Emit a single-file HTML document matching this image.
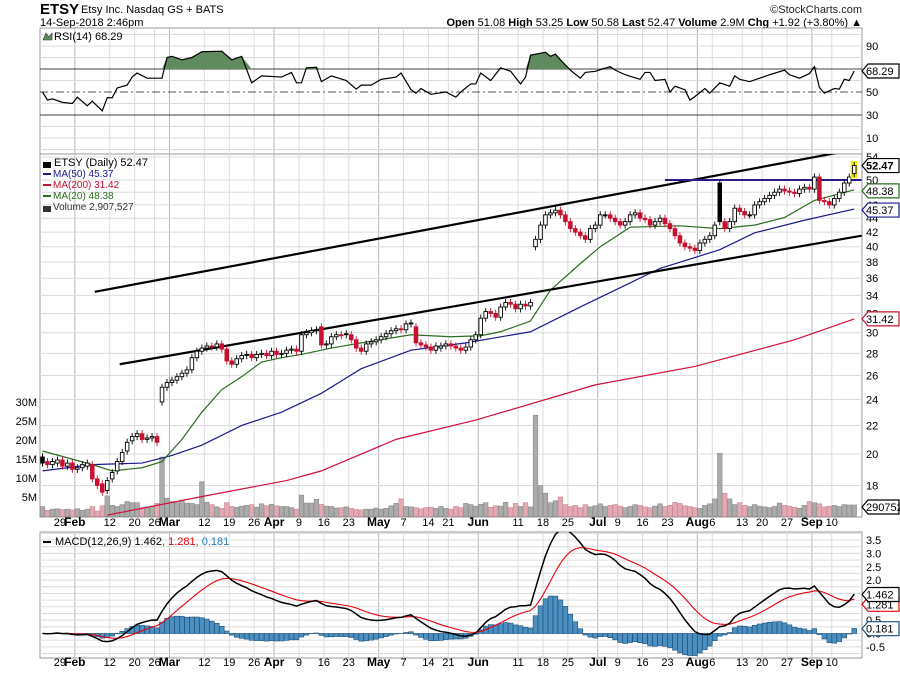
<!DOCTYPE html>
<html><head><meta charset="utf-8">
<style>
html,body{margin:0;padding:0;background:#fff;}
svg{display:block;font-family:"Liberation Sans",sans-serif;}
</style></head>
<body>
<svg id="c" width="900" height="673" viewBox="0 0 900 673" xmlns="http://www.w3.org/2000/svg">
<defs>
<clipPath id="pc"><rect x="40" y="154" width="822" height="363"/></clipPath>
<clipPath id="rc"><rect x="40" y="28" width="822" height="126"/></clipPath>
<clipPath id="mc"><rect x="40" y="532" width="822" height="126"/></clipPath>
</defs>
<text x="40" y="14" font-size="15" font-weight="bold" fill="#000">ETSY</text>
<text x="81" y="13" font-size="11" fill="#000">Etsy Inc. Nasdaq GS + BATS</text>
<text x="40" y="26" font-size="11" fill="#000">14-Sep-2018 2:46pm</text>
<text x="862" y="13" font-size="11" fill="#222" text-anchor="end">©StockCharts.com</text>
<text x="862" y="26" font-size="11" fill="#000" text-anchor="end"><tspan font-weight="bold">Open</tspan> 51.08  <tspan font-weight="bold">High</tspan> 53.25  <tspan font-weight="bold">Low</tspan> 50.58  <tspan font-weight="bold">Last</tspan> 52.47  <tspan font-weight="bold">Volume</tspan> 2.9M  <tspan font-weight="bold">Chg</tspan> +1.92 (+3.80%) ▲</text>
<g id="g"></g>
</svg>
<script>
const closes=[19.4,19.3,19.5,19.6,19.2,19.4,19.0,19.1,19.3,19.4,
18.4,18.0,17.6,18.3,18.8,19.5,20.1,20.8,21.2,21.4,
21.0,21.1,21.2,20.8,25.0,25.4,25.6,25.9,26.2,26.5,
27.6,28.2,28.5,28.7,28.6,28.9,28.4,27.3,27.0,27.5,
27.8,27.9,27.6,27.9,28.0,27.8,28.2,27.9,28.0,28.3,
28.4,28.2,29.8,30.0,30.2,30.3,28.8,28.9,29.6,29.8,
29.7,29.8,29.3,28.5,28.2,28.9,29.1,29.3,29.6,29.9,
30.2,30.4,30.3,30.9,31.0,29.0,28.8,28.6,28.3,28.7,
28.7,28.9,28.7,28.5,28.3,28.6,29.3,29.8,31.5,32.2,
32.0,31.6,32.7,33.2,33.0,32.5,33.0,32.8,33.2,41.0,
43.0,44.5,44.8,45.2,44.5,43.5,42.5,42.0,41.5,41.0,
42.5,43.0,44.5,44.5,44.0,43.5,43.0,43.5,44.5,44.8,
44.0,43.8,43.0,43.5,44.0,43.2,42.5,41.5,40.5,40.0,
39.8,39.5,40.5,41.0,41.5,43.0,43.5,42.5,43.5,45.5,
45.0,44.5,44.5,46.0,46.5,47.0,47.5,48.0,48.5,48.2,
48.0,47.8,48.5,48.8,48.5,50.5,46.7,46.5,46.0,47.0,
48.0,49.5,50.5,52.47];
const opens=[19.8,19.5,19.3,19.4,19.6,19.2,19.4,19.0,19.1,19.2,
19.3,18.4,18.1,17.7,18.4,18.9,19.5,20.2,20.9,21.2,
21.4,21.0,21.1,21.2,23.8,25.0,25.4,25.6,25.9,26.2,
26.5,27.6,28.2,28.5,28.7,28.6,28.9,28.4,27.3,27.0,
27.5,27.8,27.9,27.6,27.9,28.0,27.8,28.2,27.9,28.0,
28.3,28.4,28.2,29.8,30.0,30.2,30.6,28.8,28.9,29.6,
29.8,29.9,29.8,29.3,28.5,28.2,28.9,29.1,29.3,29.6,
29.9,30.2,30.4,30.3,30.9,30.6,29.0,28.8,28.6,28.3,
28.5,28.7,28.9,28.7,28.5,28.3,28.6,29.3,29.8,31.5,
32.2,32.0,31.6,32.7,33.2,33.0,32.5,33.0,32.8,40.0,
41.0,43.0,44.5,44.8,45.2,44.5,43.5,42.5,42.0,41.5,
41.0,42.5,43.0,44.5,44.5,44.0,43.5,43.0,43.5,44.5,
44.8,44.0,43.8,43.0,43.5,44.0,43.2,42.5,41.5,40.5,
40.0,39.8,39.5,40.5,41.0,41.5,49.5,43.5,42.5,43.5,
45.5,45.0,44.5,44.5,46.0,46.5,47.0,47.5,48.0,48.5,
48.2,48.0,47.8,48.5,48.8,48.5,50.5,46.7,46.5,46.0,
47.0,48.0,49.5,51.08];
const volumes=[2.5,1.5,1.8,1.9,1.7,1.8,1.6,1.9,1.5,1.8,
2.5,1.3,2.7,5.3,2.8,2.5,3.0,3.8,3.5,3.5,
2.2,2.4,2.6,3.3,15.5,4.7,3.8,3.5,4.2,3.4,
3.3,3.0,9.0,3.6,3.0,2.4,2.0,3.5,2.5,2.3,
2.6,2.8,3.0,2.3,3.2,2.7,3.1,2.7,2.5,2.5,
2.2,1.8,5.5,3.4,3.4,4.4,3.1,2.6,2.5,2.1,
2.2,2.4,2.0,1.7,1.6,1.8,1.8,2.1,1.8,2.0,
2.7,3.3,4.5,2.5,2.4,2.2,1.9,2.2,2.3,2.0,
2.5,2.0,1.8,2.5,2.2,3.3,3.0,2.6,3.1,3.5,
2.3,2.7,2.6,3.6,2.2,3.3,2.5,3.5,2.4,26.5,
8.0,6.0,3.5,4.0,5.0,3.0,2.5,2.8,2.2,3.0,
2.4,2.7,3.2,2.5,2.8,3.0,2.6,2.2,2.5,3.0,
2.8,2.4,2.2,2.6,3.2,2.5,2.8,3.6,3.3,2.7,
2.5,2.2,2.0,2.8,3.2,4.5,16.5,6.0,4.5,3.0,
3.5,2.8,2.5,3.0,2.6,2.4,2.2,2.5,3.4,2.8,
2.6,2.3,2.0,2.8,3.8,3.5,3.2,2.4,2.6,2.8,
2.5,3.0,2.9,2.9];
const ma20Days=[0,10,14,20,24,28,32,36,40,44,48,52,58,64,74,82,88,92,98,102,108,112,118,128,136,143,149,155,163];
const ma20Vals=[20.2,19.3,18.9,19.1,19.5,21,23,24.8,25.9,27.2,27.6,27.9,28.5,29,29.8,29.6,29.7,30.1,31.2,34.6,37.8,40,42.7,42.9,42.5,43,44.1,46.7,48.38];
const ma50Days=[0,10,20,26,32,40,48,56,64,74,85,98,108,124,136,143,153,163];
const ma50Vals=[18.9,19.3,19.4,19.9,20.6,22,23,24.5,26.6,28.3,29,30.1,32.7,37.2,39.6,41.9,43.7,45.37];
const ma200Days=[13,33,49,56,71,87,111,131,151,163];
const ma200Vals=[16.3,17.4,18.3,18.9,21,22.4,25.2,26.8,29.3,31.42];
const rsiDays=[0,1,2,4,6,7,9,10,12,13,14,15,17,18,19,21,24,25,26,28,30,32,36,38,40,42,44,48,50,51,52,53,55,56,58,61,63,64,66,68,71,72,74,75,76,78,81,83,84,86,87,88,90,92,94,96,97,98,101,102,103,104,106,108,109,111,114,115,117,120,121,122,123,125,126,127,129,130,131,133,134,136,138,139,140,142,144,146,149,150,152,154,155,156,157,159,160,161,162,163];
const rsiVals=[50,43,44,41,40,45.5,38,42,33.5,45,45,53.5,56,63,66.5,62,62,80,81,78,80,85,85.5,78,81,58,64,63,67,58,58,71,71.5,59,64,60,52.5,56,56,61,63,66.5,52,49,53,48,50,45.5,50,57,57,66.5,60,71,68,57,63,82,84.5,81,83,78,69,62,67,68,72,69,65,61,67,67,60,61,50,55,52,43,46,53,49,58,55,64,61,59,62,65,69,65,62,66,72,54,49,53,52.5,61,60,68.29];
const priceTicks=[18,20,22,24,26,28,30,32,34,36,38,40,42,44,46,48,50,54];
const volTicks=[5,10,15,20,25,30];
const rsiTicks=[90,70,50,30,10];
const macdTicks=[3.5,3.0,2.5,2.0,1.5,1.0,0.5,0.0,-0.5];
const dateDays=[4,7,14,19,23,26,33,38,43,47,52,57,62,68,73,78,82,88,96,101,106,112,116,121,126,132,135,141,145,150,155,159];
const dateLabels=["29","Feb","12","20","26","Mar","12","19","26","Apr","9","16","23","May","7","14","21","Jun","11","18","25","Jul","9","16","23","Aug","6","13","20","27","Sep","10"];
const monthLabels=["Feb","Mar","Apr","May","Jun","Jul","Aug","Sep"];
const trendUpper=[{d:10.5,p:34.4},{d:164.5,p:55.6}];
const trendLower=[{d:15.5,p:27.0},{d:164.5,p:41.5}];
const resistance={d0:125,d1:164.5,p:50.0};

const NS="http://www.w3.org/2000/svg";
const G=document.getElementById('g');
function mk(t,a,parent){const e=document.createElementNS(NS,t);for(const k in a)e.setAttribute(k,a[k]);(parent||G).appendChild(e);return e;}
const L=40,R=862;
const xOf=i=>42.49+4.98*i;
const yP=p=>180-299*Math.log(p/50);
const yV=v=>516-3.8*v;
const yR=v=>92-(v-50)*1.15;
const yM=v=>633.5-26.7*v;

const panels=[[28,154,'rsi-panel'],[154,517,'price-panel'],[532,658,'macd-panel']];
panels.forEach(p=>{const r=mk('rect',{x:L,y:p[0],width:R-L,height:p[1]-p[0],fill:'#fff',stroke:'#999','stroke-width':1});

});

dateDays.forEach((d,k)=>{if(k===0)return;const x=xOf(d)-2.5;const major=monthLabels.includes(dateLabels[k]);
panels.forEach(p=>{const l=mk('line',{x1:x,x2:x,y1:p[0],y2:p[1],stroke:major?'#b8b8b8':'#dcdcdc','stroke-width':1});

});});
dateDays.forEach((d,k)=>{const x=xOf(d)-2.5;const major=monthLabels.includes(dateLabels[k]);
[526,666].forEach(y=>{const t=mk('text',{x:x,y:y,'font-size':major?12:11,'font-weight':major?'bold':'normal','text-anchor':'middle',fill:'#000'});t.textContent=dateLabels[k];

});});

[100,90,80,60,40,20,10,0].forEach(v=>{const l=mk('line',{x1:L,x2:R,y1:yR(v),y2:yR(v),stroke:'#dcdcdc'});

});
[70,30].forEach(v=>{const l=mk('line',{x1:L,x2:R,y1:yR(v),y2:yR(v),stroke:'#444'});

});
{const l=mk('line',{x1:L,x2:R,y1:yR(50),y2:yR(50),stroke:'#555','stroke-dasharray':'8,3,2,3'});

}
rsiTicks.forEach(v=>{const t=mk('text',{x:866,y:yR(v)+4,'font-size':11,fill:'#000'});t.textContent=v;

});
{const rg=mk('g',{'clip-path':'url(#rc)'});
let pts=rsiDays.map((d,k)=>[xOf(d),yR(Math.max(rsiVals[k],70))]);
let dstr='M'+pts[0][0]+','+yR(70)+' '+pts.map(p=>'L'+p[0]+','+p[1]).join(' ')+' L'+pts[pts.length-1][0]+','+yR(70)+'Z';
const f=mk('path',{d:dstr,fill:'#5e8a5e',stroke:'none'},rg);


const ln=mk('polyline',{points:rsiDays.map((d,k)=>xOf(d)+','+yR(rsiVals[k])).join(' '),fill:'none',stroke:'#000','stroke-width':1.2},rg);

}
{const t=mk('text',{x:54,y:40,'font-size':11,fill:'#000'});t.textContent='RSI(14) 68.29';


const ic=mk('path',{d:'M43,40 L46,33 L49,37 L52,33 L52,40Z',fill:'#5e8a5e',stroke:'#333','stroke-width':0.6});

}

priceTicks.forEach(v=>{const l=mk('line',{x1:L,x2:R,y1:yP(v),y2:yP(v),stroke:'#dcdcdc'});


const t=mk('text',{x:866,y:yP(v)+4,'font-size':11,fill:'#000'});t.textContent=v;

});
volTicks.forEach(v=>{const t=mk('text',{x:37,y:yV(v)+4,'font-size':11,fill:'#000','text-anchor':'end'});t.textContent=v+'M';

});

const pg=mk('g',{'clip-path':'url(#pc)'});
volumes.forEach((v,i)=>{const down=i>0&&closes[i]<closes[i-1];
const b=mk('rect',{x:xOf(i)-2.3,y:yV(v),width:4.6,height:516.5-yV(v),fill:down?'#e3a9b3':'#ababab',stroke:down?'#c98894':'#8a8a8a','stroke-width':0.6},pg);

});
function maLine(days,vals,color,name){const l=mk('polyline',{points:days.map((d,k)=>xOf(d)+','+yP(vals[k])).join(' '),fill:'none',stroke:color,'stroke-width':1.2},pg);

}
maLine(ma200Days,ma200Vals,'#d0103a','ma200-line');
maLine(ma50Days,ma50Vals,'#1a1a8c','ma50-line');
maLine(ma20Days,ma20Vals,'#2a6e1e','ma20-line');
{const a=mk('line',{x1:xOf(trendUpper[0].d),y1:yP(trendUpper[0].p),x2:xOf(trendUpper[1].d),y2:yP(trendUpper[1].p),stroke:'#000','stroke-width':2.2},pg);


const b=mk('line',{x1:xOf(trendLower[0].d),y1:yP(trendLower[0].p),x2:xOf(trendLower[1].d),y2:yP(trendLower[1].p),stroke:'#000','stroke-width':2.2},pg);


const c=mk('line',{x1:xOf(resistance.d0),y1:yP(resistance.p),x2:xOf(resistance.d1),y2:yP(resistance.p),stroke:'#2a1a8a','stroke-width':2},pg);

}
closes.forEach((c,i)=>{const o=opens[i];const up=i===0||c>=closes[i-1];const col=up?'#000':'#c8102e';
const hi=Math.max(o,c)*1.012,lo=Math.min(o,c)*0.988;const x=xOf(i);
if(i===closes.length-1){const hl=mk('rect',{x:x-3.5,y:yP(hi)-1,width:7,height:yP(lo)-yP(hi)+2,fill:'#f4f000'},pg);

}
const w=mk('line',{x1:x,x2:x,y1:yP(hi),y2:yP(lo),stroke:col,'stroke-width':0.9},pg);


const top=yP(Math.max(o,c)),bot=yP(Math.min(o,c));
const b=mk('rect',{x:x-1.8,y:top,width:3.6,height:Math.max(bot-top,1),fill:c>o?'#fff':col,stroke:col,'stroke-width':0.9},pg);

});

[['ETSY (Daily) 52.47','#000','price-legend'],['MA(50) 45.37','#1a1a8c','ma50-legend'],['MA(200) 31.42','#c8102e','ma200-legend'],['MA(20) 48.38','#2a6e1e','ma20-legend'],['Volume 2,907,527','#333','volume-legend']].forEach((e,k)=>{
const y=166+k*11;const t=mk('text',{x:k===0?54:53,y:y,'font-size':k===0?11:10,fill:e[1]});t.textContent=e[0];


const s=mk('rect',{x:43,y:y-4,width:8,height:k===0||k===4?6:2,fill:e[1]});

});

function ema(arr,n){const k=2/(n+1);const out=[];arr.forEach((v,i)=>out.push(i===0?v:v*k+out[i-1]*(1-k)));return out;}
const e12=ema(closes,12),e26=ema(closes,26);const macd=closes.map((_,i)=>e12[i]-e26[i]);const sig=ema(macd,9);const hist=macd.map((m,i)=>m-sig[i]);
[3.75,3.25,2.75,2.25,1.75,1.25,0.75,0.25,-0.25,-0.75].concat(macdTicks).forEach(v=>{const l=mk('line',{x1:L,x2:R,y1:yM(v),y2:yM(v),stroke:'#dcdcdc'});

});
macdTicks.forEach(v=>{const t=mk('text',{x:866,y:yM(v)+4,'font-size':11,fill:'#000'});t.textContent=v.toFixed(1);

});
const mg=mk('g',{'clip-path':'url(#mc)'});
hist.forEach((h,i)=>{const y0=yM(0),y1=yM(h);const b=mk('rect',{x:xOf(i)-2.4,y:Math.min(y0,y1),width:4.8,height:Math.abs(y1-y0),fill:'#4a8fc0',stroke:'#1f4f7a','stroke-width':0.6},mg);

});
{const s=mk('polyline',{points:sig.map((v,i)=>xOf(i)+','+yM(v)).join(' '),fill:'none',stroke:'#e8000b','stroke-width':1.1},mg);


const m=mk('polyline',{points:macd.map((v,i)=>xOf(i)+','+yM(v)).join(' '),fill:'none',stroke:'#000','stroke-width':1.5},mg);

}
{const t=mk('text',{x:55,y:545,'font-size':11,fill:'#000'});t.innerHTML='MACD(12,26,9) 1.462<tspan fill="#e8000b">, 1.281</tspan><tspan fill="#1f7ab8">, 0.181</tspan>';


const s=mk('rect',{x:43,y:541,width:8,height:2,fill:'#000'});

}

function tag(y,txt,col,name,bold,bg){const p=mk('path',{d:`M862,${y} L868,${y-7} L899,${y-7} L899,${y+7} L868,${y+7} Z`,fill:bg||'#fff',stroke:col,'stroke-width':1.2});


const t=mk('text',{x:866,y:y+4,'font-size':11,'font-weight':bold?'bold':'normal',fill:'#000'});t.textContent=txt;

}
tag(yR(68.29),'68.29','#000','rsi-value-tag');
tag(yP(52.47),'52.47','#000','last-price-tag',true);
tag(yP(48.38)+1,'48.38','#2a6e1e','ma20-value-tag');
tag(yP(45.37)+1,'45.37','#1a1a8c','ma50-value-tag');
tag(yP(31.42),'31.42','#c8102e','ma200-value-tag');
tag(507,'290752','#000','volume-value-tag');
tag(yM(1.281)+5,'1.281','#e8000b','macd-signal-tag');
tag(yM(1.462),'1.462','#000','macd-value-tag');
tag(yM(0.181),'0.181','#1f4f7a','macd-histogram-tag');
</script>
</body></html>
